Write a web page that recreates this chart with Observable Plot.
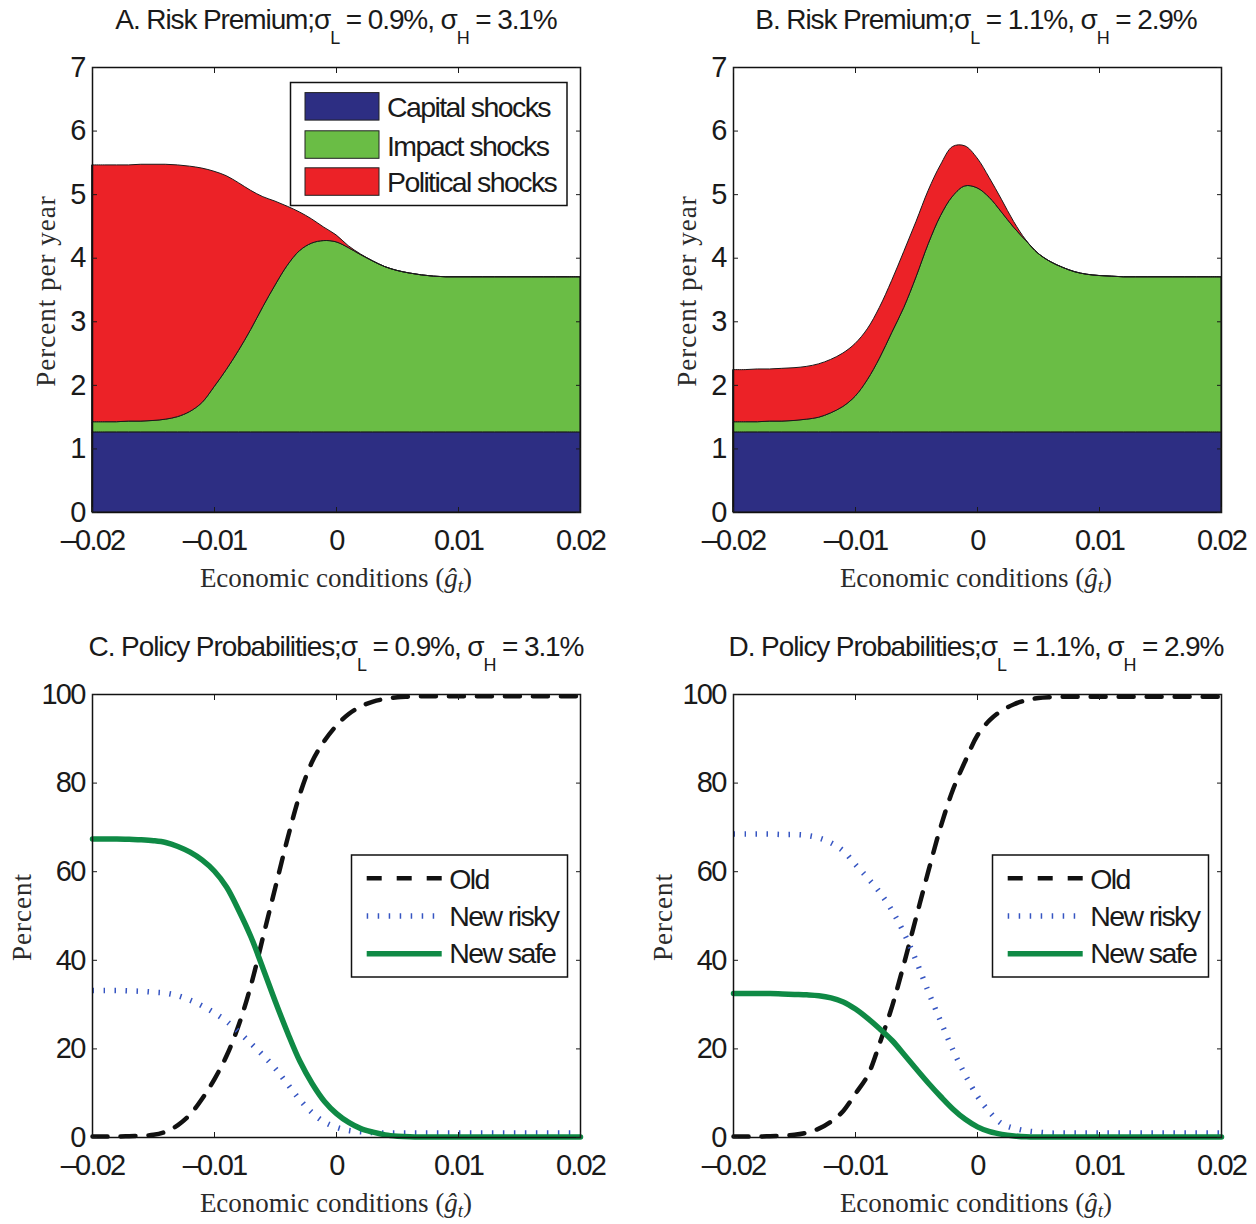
<!DOCTYPE html>
<html>
<head>
<meta charset="utf-8">
<script src="https://cdn.jsdelivr.net/npm/d3@7"></script>
<script src="https://cdn.jsdelivr.net/npm/@observablehq/plot@0.6"></script>
<style>
  html, body { margin: 0; padding: 0; background: #fff; }
  #root { position: relative; width: 1256px; height: 1224px; overflow: hidden; background: #fff; }
  .panel { position: absolute; }
  .panel svg { max-width: none !important; }
  #overlay { position: absolute; left: 0; top: 0; pointer-events: none; }
</style>
</head>
<body>
<div id="root"></div>
<script>
// ---------------- DATA ----------------
const xGrid = [-0.020,-0.019,-0.018,-0.017,-0.016,-0.015,-0.014,-0.013,-0.012,-0.011,
               -0.010,-0.009,-0.008,-0.007,-0.006,-0.005,-0.004,-0.003,-0.002,-0.001,
                0.000,
                0.001, 0.002, 0.003, 0.004, 0.005, 0.006, 0.007, 0.008, 0.009, 0.010,
                0.011, 0.012, 0.013, 0.014, 0.015, 0.016, 0.017, 0.018, 0.019, 0.020];

const xTicks = [-0.02, -0.01, 0, 0.01, 0.02];
const yTicksRP = [0, 1, 2, 3, 4, 5, 6, 7];
const yTicksPP = [0, 20, 40, 60, 80, 100];

const shockNames = ["Capital shocks", "Impact shocks", "Political shocks"];
const shockColors = ["#2d2e83", "#6abd45", "#ec2227"];

// Panel A: risk premium components (percent per year)
const capitalA = [1.26,1.26,1.26,1.26,1.26,1.26,1.26,1.26,1.26,1.26,
                  1.26,1.26,1.26,1.26,1.26,1.26,1.26,1.26,1.26,1.26,
                  1.26,
                  1.26,1.26,1.26,1.26,1.26,1.26,1.26,1.26,1.26,1.26,
                  1.26,1.26,1.26,1.26,1.26,1.26,1.26,1.26,1.26,1.26];
const impactA  = [0.16,0.16,0.16,0.17,0.17,0.18,0.20,0.24,0.32,0.46,
                  0.71,0.98,1.28,1.61,1.97,2.31,2.62,2.85,2.97,3.01,
                  2.99,
                  2.90,2.79,2.69,2.60,2.54,2.50,2.47,2.45,2.44,2.44,
                  2.44,2.44,2.44,2.44,2.44,2.44,2.44,2.44,2.44,2.44];
const politicalA = [4.04,4.04,4.04,4.03,4.04,4.03,4.01,3.96,3.86,3.69,
                    3.39,3.05,2.64,2.19,1.73,1.32,0.93,0.61,0.38,0.21,
                    0.11,
                    0.03,0.01,0,0,0,0,0,0,0,0,
                    0,0,0,0,0,0,0,0,0,0];

// Panel B
const capitalB = [1.26,1.26,1.26,1.26,1.26,1.26,1.26,1.26,1.26,1.26,
                  1.26,1.26,1.26,1.26,1.26,1.26,1.26,1.26,1.26,1.26,
                  1.26,
                  1.26,1.26,1.26,1.26,1.26,1.26,1.26,1.26,1.26,1.26,
                  1.26,1.26,1.26,1.26,1.26,1.26,1.26,1.26,1.26,1.26];
const impactB  = [0.16,0.16,0.16,0.17,0.17,0.18,0.20,0.23,0.30,0.40,
                  0.56,0.82,1.16,1.56,1.96,2.44,2.96,3.40,3.71,3.87,
                  3.84,
                  3.69,3.46,3.22,3.01,2.81,2.68,2.59,2.52,2.48,2.46,
                  2.45,2.44,2.44,2.44,2.44,2.44,2.44,2.44,2.44,2.44];
const politicalB = [0.82,0.82,0.83,0.82,0.83,0.83,0.83,0.84,0.84,0.84,
                    0.83,0.80,0.80,0.82,0.88,0.87,0.84,0.80,0.78,0.63,
                    0.47,
                    0.31,0.20,0.09,0.01,0,0,0,0,0,0,
                    0,0,0,0,0,0,0,0,0,0];

// Panel C: policy probabilities (percent)
const oldC   = [0.2,0.2,0.2,0.3,0.4,0.6,1.3,2.8,5.2,8.8,
                13.2,18.5,25.5,34.5,45.5,56.6,67.6,77.5,84.8,89.5,
                93.0,
                95.6,97.3,98.4,99.0,99.4,99.5,99.6,99.6,99.6,99.6,
                99.6,99.6,99.6,99.6,99.6,99.6,99.6,99.6,99.6,99.6];
const riskyC = [33.2,33.2,33.2,33.1,33.0,32.8,32.6,32.0,31.0,29.7,
                28.1,26.2,23.8,21.2,18.5,15.5,12.0,8.5,5.6,3.5,
                2.3,
                1.6,1.3,1.1,1.0,1.0,1.0,1.0,1.0,1.0,1.0,
                1.0,1.0,1.0,1.0,1.0,1.0,1.0,1.0,1.0,1.0];
const safeC  = [67.4,67.4,67.4,67.3,67.2,67.0,66.6,65.7,64.4,62.6,
                60.1,56.5,51.2,45.2,38.0,30.6,23.6,17.2,12.2,8.2,
                5.4,
                3.4,2.0,1.2,0.6,0.3,0.15,0.1,0.1,0.1,0.1,
                0.1,0.1,0.1,0.1,0.1,0.1,0.1,0.1,0.1,0.1];

// Panel D
const oldD   = [0.2,0.2,0.2,0.3,0.4,0.6,1.1,2.0,3.6,6.0,
                9.9,14.0,21.4,29.6,39.5,50.0,60.4,70.3,78.6,85.0,
                90.8,
                94.2,96.4,97.8,98.7,99.2,99.4,99.5,99.5,99.5,99.5,
                99.5,99.5,99.5,99.5,99.5,99.5,99.5,99.5,99.5,99.5];
const riskyD = [68.5,68.5,68.5,68.5,68.4,68.4,68.2,67.6,66.5,64.7,
                61.6,58.6,55.3,51.2,46.0,39.7,32.7,26.1,19.7,14.1,
                9.3,
                5.7,3.1,2.1,1.5,1.2,1.0,1.0,1.0,1.0,1.0,
                1.0,1.0,1.0,1.0,1.0,1.0,1.0,1.0,1.0,1.0];
const safeD  = [32.5,32.5,32.5,32.5,32.4,32.3,32.2,32.0,31.5,30.6,
                29.0,26.9,24.5,21.9,18.7,15.4,12.2,9.2,6.4,4.1,
                2.4,
                1.3,0.7,0.35,0.15,0.1,0.1,0.1,0.1,0.1,0.1,
                0.1,0.1,0.1,0.1,0.1,0.1,0.1,0.1,0.1,0.1];

const policyNames = ["Old", "New risky", "New safe"];

// ---------------- STYLE ----------------
const SANS = '"Liberation Sans", Arial, Helvetica, sans-serif';
const SERIF = '"Liberation Serif", "Times New Roman", serif';
const oldStyle   = {stroke: "#111111", strokeWidth: 4.5, strokeDasharray: "15,13"};
const riskyStyle = {stroke: "#3655c2", strokeWidth: 5.5, strokeDasharray: "1.5,9.5", strokeLinecap: "butt"};
const safeStyle  = {stroke: "#0f8a45", strokeWidth: 5.5};

const fmtX = d => d === 0 ? "0" : (d < 0 ? "\u2013" : "") + Math.abs(d).toFixed(2);
const fmtY = d => String(d);

const root = document.getElementById("root");

function makePanel({left, top, frameH, yDomain, yTicks, marks, color}) {
  const W = 92 + 488 + 44, H = 20 + frameH + 55;
  const opts = {
    width: W,
    height: H,
    marginLeft: 92, marginRight: 44, marginTop: 20, marginBottom: 55,
    x: {domain: [-0.02, 0.02]},
    y: {domain: yDomain},
    style: {fontFamily: SANS, fontSize: "29px", letterSpacing: "-1.8px", color: "#1a1a1a", background: "transparent", overflow: "visible", maxWidth: "none"},
    marks: [
      ...marks,
      Plot.frame({stroke: "#111", strokeWidth: 1.5}),
      Plot.axisX(xTicks, {anchor: "bottom", tickSize: -5, tickPadding: 22, tickFormat: fmtX, label: null, fontSize: 29}),
      Plot.axisX(xTicks, {anchor: "top", tickSize: -5, tickFormat: () => "", label: null}),
      Plot.axisY(yTicks, {anchor: "left", tickSize: -5, tickPadding: 13, tickFormat: fmtY, label: null, fontSize: 29}),
      Plot.axisY(yTicks, {anchor: "right", tickSize: -5, tickFormat: () => "", label: null})
    ]
  };
  if (color) opts.color = color;
  const svg = Plot.plot(opts);
  const wrap = document.createElement("div");
  wrap.className = "panel";
  wrap.style.left = left + "px";
  wrap.style.top = top + "px";
  wrap.style.width = W + "px";
  wrap.style.height = H + "px";
  wrap.appendChild(svg);
  root.appendChild(wrap);
}

function stackRows(seriesArrays) {
  const rows = [];
  shockNames.forEach((s, k) => xGrid.forEach((x, i) => rows.push({x, s, v: seriesArrays[k][i]})));
  return rows;
}

function riskPanel(left, top, arrays) {
  makePanel({
    left, top, frameH: 445, yDomain: [0, 7], yTicks: yTicksRP,
    color: {domain: shockNames, range: shockColors},
    marks: [
      Plot.areaY(stackRows(arrays), {x: "x", y: "v", fill: "s", z: "s", stroke: "#1a1a1a", strokeWidth: 1, curve: "catmull-rom"})
    ]
  });
}

function policyPanel(left, top, oldV, riskyV, safeV) {
  makePanel({
    left, top, frameH: 443, yDomain: [0, 100], yTicks: yTicksPP,
    marks: [
      Plot.lineY(oldV, {x: xGrid, curve: "catmull-rom", ...oldStyle}),
      Plot.lineY(riskyV, {x: xGrid, curve: "catmull-rom", ...riskyStyle}),
      Plot.lineY(safeV, {x: xGrid, curve: "catmull-rom", ...safeStyle})
    ]
  });
}

riskPanel(0, 47, [capitalA, impactA, politicalA]);
riskPanel(641, 47, [capitalB, impactB, politicalB]);
policyPanel(0, 674, oldC, riskyC, safeC);
policyPanel(641, 674, oldD, riskyD, safeD);

// ---------------- TEXT OVERLAY: titles, axis labels, legends ----------------
const ov = d3.select(root).append("svg").attr("id", "overlay").attr("width", 1256).attr("height", 1224);

function title(cx, baseline, prefix, sL, sH) {
  const t = ov.append("text").attr("x", cx).attr("y", baseline).attr("text-anchor", "middle")
    .attr("font-family", SANS).attr("font-size", 28).attr("letter-spacing", "-1.1").attr("fill", "#1a1a1a");
  t.append("tspan").text(prefix + "\u03C3");
  t.append("tspan").attr("dy", 15).attr("font-size", 18).text("L");
  t.append("tspan").attr("dy", -15).text(" = " + sL + ", \u03C3");
  t.append("tspan").attr("dy", 15).attr("font-size", 18).text("H");
  t.append("tspan").attr("dy", -15).text(" = " + sH);
}
title(336, 28.5, "A. Risk Premium;", "0.9%", "3.1%");
title(976, 28.5, "B. Risk Premium;", "1.1%", "2.9%");
title(336, 655.5, "C. Policy Probabilities;", "0.9%", "3.1%");
title(976, 655.5, "D. Policy Probabilities;", "1.1%", "2.9%");

function xLabel(cx, baseline) {
  const t = ov.append("text").attr("x", cx).attr("y", baseline).attr("text-anchor", "middle")
    .attr("font-family", SERIF).attr("font-size", 27).attr("fill", "#2a2a2a");
  t.append("tspan").text("Economic conditions (");
  t.append("tspan").attr("font-style", "italic").text("\u011D");
  t.append("tspan").attr("font-style", "italic").attr("font-size", 19).attr("dy", 5).text("t");
  t.append("tspan").attr("dy", -5).text(")");
}
xLabel(336, 586.5);
xLabel(976, 586.5);
xLabel(336, 1211.5);
xLabel(976, 1211.5);

function yLabel(bx, cy, txt) {
  ov.append("text").attr("transform", `translate(${bx},${cy}) rotate(-90)`).attr("text-anchor", "middle")
    .attr("font-family", SERIF).attr("font-size", 27).attr("letter-spacing", "1").attr("fill", "#2a2a2a").text(txt);
}
yLabel(55, 291, "Percent per year");
yLabel(696, 291, "Percent per year");
yLabel(31, 917, "Percent");
yLabel(672, 917, "Percent");

// Legend for panel A (stacked areas)
{
  const g = ov.append("g");
  g.append("rect").attr("x", 290.5).attr("y", 82.5).attr("width", 276.5).attr("height", 123)
    .attr("fill", "#fff").attr("stroke", "#111").attr("stroke-width", 1.5);
  const ys = [92.6, 130.8, 167.8];
  const bl = [117.4, 155.6, 191.9];
  shockNames.forEach((name, i) => {
    g.append("rect").attr("x", 305).attr("y", ys[i]).attr("width", 74).attr("height", 27.5)
      .attr("fill", shockColors[i]).attr("stroke", "#222").attr("stroke-width", 1);
    g.append("text").attr("x", 387).attr("y", bl[i]).attr("font-family", SANS).attr("font-size", 28.5)
      .attr("letter-spacing", "-1.6").attr("fill", "#1a1a1a").text(name);
  });
}

// Legends for panels C and D (lines)
function lineLegend(dx) {
  const g = ov.append("g").attr("transform", `translate(${dx},0)`);
  g.append("rect").attr("x", 351.5).attr("y", 855).attr("width", 216).attr("height", 122)
    .attr("fill", "#fff").attr("stroke", "#111").attr("stroke-width", 1.5);
  const ly = [878.3, 916, 953.7];
  const bl = [889.3, 926, 962.7];
  const styles = [oldStyle, riskyStyle, safeStyle];
  const x2s = [442, 435, 441.7];
  policyNames.forEach((name, i) => {
    const s = styles[i];
    const l = g.append("line").attr("x1", 366.7).attr("x2", x2s[i]).attr("y1", ly[i]).attr("y2", ly[i])
      .attr("stroke", s.stroke).attr("stroke-width", s.strokeWidth);
    if (s.strokeDasharray) l.attr("stroke-dasharray", i === 0 ? "15,15" : s.strokeDasharray);
    if (s.strokeLinecap) l.attr("stroke-linecap", s.strokeLinecap);
    g.append("text").attr("x", 449.3).attr("y", bl[i]).attr("font-family", SANS).attr("font-size", 28.5)
      .attr("letter-spacing", "-1.6").attr("fill", "#1a1a1a").text(name);
  });
}
lineLegend(0);
lineLegend(641);
</script>
</body>
</html>
